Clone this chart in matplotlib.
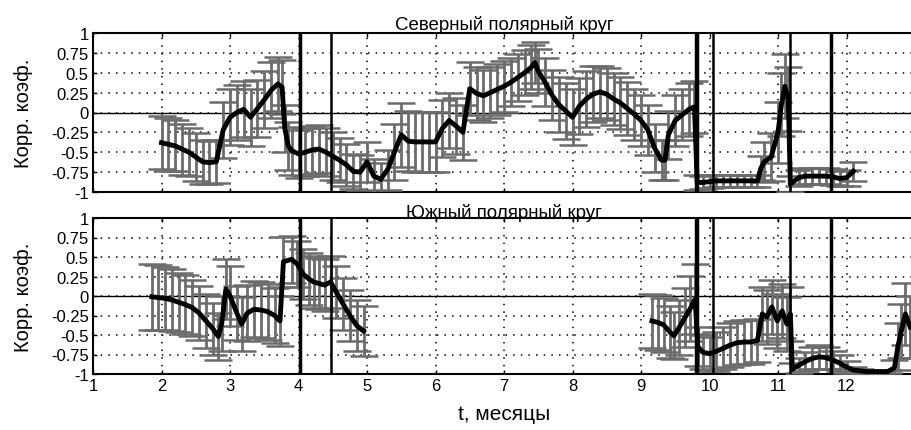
import matplotlib
matplotlib.use("Agg")
import matplotlib.pyplot as plt
import numpy as np

plt.rcParams['font.family'] = ['Liberation Sans', 'DejaVu Sans']

# ---- data: north polar circle ----
north_t = [2.0, 2.1, 2.2, 2.3, 2.4, 2.5, 2.6, 2.7, 2.8, 2.9, 3.0, 3.1, 3.2, 3.3, 3.4, 3.5,
           3.6, 3.7, 3.76, 3.8, 3.85, 3.9, 4.0, 4.1, 4.2, 4.3, 4.4, 4.5, 4.6, 4.7, 4.8, 4.9,
           5.0, 5.1, 5.2, 5.3, 5.4, 5.5, 5.6, 5.7, 5.8, 5.9, 6.0, 6.1, 6.2, 6.3, 6.4, 6.5,
           6.6, 6.7, 6.8, 6.9, 7.0, 7.1, 7.2, 7.3, 7.4, 7.45, 7.5, 7.6, 7.7, 7.8, 7.9, 8.0,
           8.1, 8.2, 8.3, 8.4, 8.5, 8.6, 8.7, 8.8, 8.9, 9.0, 9.1, 9.2, 9.3, 9.35, 9.4, 9.5,
           9.6, 9.7, 9.78, 9.82, 9.9, 10.0, 10.1, 10.2, 10.3, 10.4, 10.5, 10.6, 10.7, 10.75,
           10.8, 10.9, 11.0, 11.05, 11.1, 11.15, 11.18, 11.3, 11.4, 11.5, 11.6, 11.7, 11.8,
           11.9, 12.0, 12.1]
north_r = [-0.38, -0.40, -0.42, -0.46, -0.50, -0.56, -0.62, -0.63, -0.62, -0.22, -0.06, 0.00,
           0.04, -0.06, 0.05, 0.16, 0.28, 0.36, 0.32, -0.20, -0.42, -0.48, -0.52, -0.50, -0.47,
           -0.46, -0.50, -0.55, -0.60, -0.66, -0.74, -0.75, -0.62, -0.80, -0.84, -0.72, -0.50,
           -0.28, -0.36, -0.37, -0.37, -0.37, -0.37, -0.20, -0.10, -0.17, -0.25, 0.30, 0.24,
           0.21, 0.25, 0.29, 0.33, 0.38, 0.44, 0.50, 0.57, 0.63, 0.52, 0.38, 0.22, 0.10, 0.02,
           -0.06, 0.08, 0.17, 0.23, 0.26, 0.23, 0.17, 0.12, 0.05, -0.02, -0.10, -0.22, -0.45,
           -0.60, -0.60, -0.28, -0.10, -0.03, 0.04, 0.07, -0.88, -0.88, -0.87, -0.86, -0.86,
           -0.86, -0.86, -0.86, -0.86, -0.86, -0.70, -0.62, -0.56, -0.25, 0.10, 0.33, 0.17,
           -0.90, -0.82, -0.80, -0.80, -0.80, -0.80, -0.81, -0.83, -0.82, -0.74]
north_e = [0.33, 0.33, 0.32, 0.32, 0.30, 0.30, 0.28, 0.27, 0.27, 0.35, 0.35, 0.35, 0.35, 0.36,
           0.36, 0.36, 0.35, 0.34, 0.34, 0.30, 0.30, 0.30, 0.30, 0.30, 0.30, 0.30, 0.30, 0.30,
           0.28, 0.26, 0.22, 0.22, 0.25, 0.22, 0.20, 0.25, 0.35, 0.40, 0.38, 0.38, 0.38, 0.38,
           0.38, 0.36, 0.35, 0.35, 0.35, 0.33, 0.33, 0.33, 0.32, 0.32, 0.32, 0.30, 0.30, 0.28,
           0.28, 0.26, 0.28, 0.30, 0.32, 0.35, 0.35, 0.35, 0.35, 0.35, 0.35, 0.33, 0.33, 0.33,
           0.33, 0.33, 0.32, 0.32, 0.32, 0.30, 0.25, 0.25, 0.30, 0.32, 0.32, 0.33, 0.33, 0.10,
           0.08, 0.08, 0.08, 0.08, 0.08, 0.08, 0.08, 0.08, 0.08, 0.15, 0.25, 0.30, 0.38, 0.40,
           0.40, 0.40, 0.10, 0.10, 0.10, 0.10, 0.10, 0.10, 0.10, 0.10, 0.10, 0.12]

# ---- data: south polar circle (two segments) ----
south1_t = [1.86, 1.95, 2.05, 2.15, 2.25, 2.35, 2.45, 2.55, 2.65, 2.75, 2.83, 2.88, 2.94, 3.0,
            3.1, 3.17, 3.25, 3.35, 3.45, 3.55, 3.65, 3.73, 3.78, 3.9, 3.98, 4.07, 4.15, 4.22,
            4.3, 4.38, 4.47, 4.55, 4.65, 4.75, 4.85, 4.95]
south1_r = [-0.01, -0.02, -0.03, -0.05, -0.08, -0.11, -0.15, -0.22, -0.32, -0.42, -0.52, -0.35,
            0.09, 0.00, -0.22, -0.36, -0.22, -0.17, -0.18, -0.20, -0.25, -0.32, 0.44, 0.47,
            0.41, 0.28, 0.22, 0.18, 0.16, 0.14, 0.18, 0.05, -0.10, -0.25, -0.38, -0.45]
south1_e = [0.42, 0.42, 0.40, 0.40, 0.38, 0.38, 0.36, 0.35, 0.35, 0.33, 0.30, 0.35, 0.38, 0.38,
            0.35, 0.35, 0.36, 0.36, 0.36, 0.36, 0.35, 0.32, 0.32, 0.30, 0.30, 0.32, 0.33, 0.33,
            0.33, 0.33, 0.33, 0.33, 0.33, 0.33, 0.33, 0.32]

south2_t = [9.16, 9.25, 9.33, 9.42, 9.48, 9.56, 9.64, 9.72, 9.79, 9.83, 9.9, 10.0, 10.1, 10.2,
            10.3, 10.4, 10.5, 10.6, 10.7, 10.77, 10.84, 10.91, 10.99, 11.06, 11.13, 11.18,
            11.21, 11.3, 11.4, 11.5, 11.6, 11.7, 11.8, 11.9, 12.0, 12.1, 12.2, 12.3, 12.4,
            12.5, 12.6, 12.7, 12.75, 12.8, 12.86, 12.93]
south2_r = [-0.32, -0.34, -0.37, -0.46, -0.51, -0.40, -0.28, -0.16, -0.04, -0.65, -0.72, -0.74,
            -0.71, -0.67, -0.63, -0.60, -0.59, -0.59, -0.57, -0.23, -0.27, -0.14, -0.32, -0.19,
            -0.36, -0.23, -0.94, -0.89, -0.84, -0.80, -0.78, -0.79, -0.82, -0.86, -0.91, -0.95,
            -0.96, -0.97, -0.97, -0.97, -0.97, -0.92, -0.65, -0.45, -0.23, -0.40]
south2_e = [0.35, 0.35, 0.35, 0.33, 0.30, 0.35, 0.38, 0.42, 0.45, 0.25, 0.22, 0.22, 0.25, 0.27,
            0.28, 0.28, 0.28, 0.28, 0.28, 0.35, 0.35, 0.35, 0.35, 0.35, 0.35, 0.35, 0.08, 0.10,
            0.12, 0.14, 0.15, 0.14, 0.12, 0.10, 0.08, 0.04, 0.03, 0.02, 0.02, 0.02, 0.02, 0.10,
            0.30, 0.35, 0.40, 0.40]

event_lines = [4.02, 4.47, 9.82, 10.05, 11.17, 11.77]
event_widths = [2.5, 1.8, 3.2, 1.8, 1.8, 2.5]

xticks = list(range(1, 13))
yticks = [-1, -0.75, -0.5, -0.25, 0, 0.25, 0.5, 0.75, 1]
ytick_labels = ['-1', '-0.75', '-0.5', '-0.25', '0', '0.25', '0.5', '0.75', '1']

titles = ['Северный полярный круг', 'Южный полярный круг']
ylabel = 'Корр. коэф.'
xlabel = 't, месяцы'

fig = plt.figure(figsize=(9.11, 4.31), dpi=100)
W, H = 911, 431
px_per_month = 68.5
left = 93 / W
width = 12 * px_per_month / W
ax1 = fig.add_axes([left, 1 - 193 / H, width, (193 - 34) / H])
ax2 = fig.add_axes([left, 1 - 375 / H, width, (375 - 219) / H])

ecol = '#6c6c6c'

def style(ax, title, show_x):
    ax.set_xlim(1, 13)
    ax.set_ylim(-1, 1)
    ax.set_xticks(xticks)
    ax.set_yticks(yticks)
    ax.set_yticklabels(ytick_labels)
    if not show_x:
        ax.set_xticklabels([])
    ax.grid(True, color='k', linestyle=(0, (1, 4)), linewidth=1.1)
    ax.axhline(0, color='k', lw=1.0, zorder=2)
    ax.tick_params(direction='in', length=3, top=True, right=True, labelsize=12, pad=3,
                   width=1)
    for s in ax.spines.values():
        s.set_linewidth(1.5)
    ax.set_title(title, fontsize=13.5, pad=1)
    ax.set_ylabel(ylabel, fontsize=14.5, labelpad=2)
    for xv, lw in zip(event_lines, event_widths):
        ax.axvline(xv, color='k', lw=lw, zorder=6)

ax1.errorbar(north_t, north_r, yerr=north_e, fmt='none', ecolor=ecol, elinewidth=2.0,
             capsize=10, capthick=1.8, zorder=3)
ax1.plot(north_t, north_r, color='k', lw=3.5, zorder=5)
style(ax1, titles[0], False)

for tt, rr, ee in [(south1_t, south1_r, south1_e), (south2_t, south2_r, south2_e)]:
    ax2.errorbar(tt, rr, yerr=ee, fmt='none', ecolor=ecol, elinewidth=2.0,
                 capsize=10, capthick=1.8, zorder=3)
    ax2.plot(tt, rr, color='k', lw=3.5, zorder=5)
style(ax2, titles[1], True)
ax2.set_xlabel(xlabel, fontsize=15, labelpad=8)

for ax in (ax1, ax2):
    ax.yaxis.set_label_coords(-0.073, 0.5)

fig.savefig('out.png', dpi=100)
